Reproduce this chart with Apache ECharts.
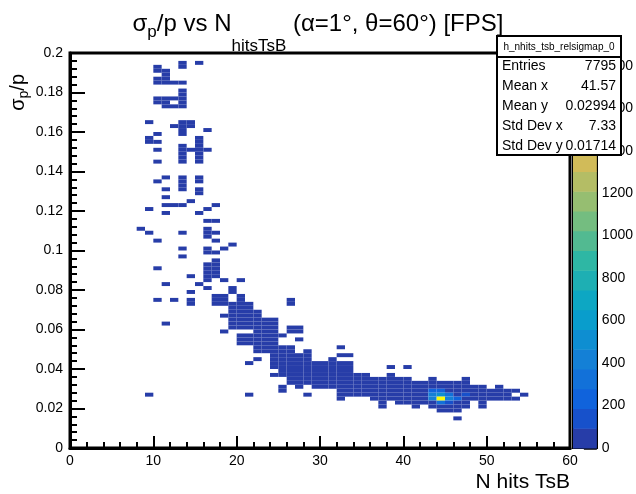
<!DOCTYPE html>
<html><head><meta charset="utf-8">
<script src="https://cdn.jsdelivr.net/npm/echarts@6/dist/echarts.min.js"></script>
<style>html,body{margin:0;padding:0;background:#fff}#c{width:636px;height:494px}</style>
</head><body><div id="c"></div>
<script>
// ---------------- data ----------------
const X_BIN = 1;        // x bin width (N hits)
const Y_BIN = 0.002;    // y bin width (sigma_p/p)
const columnX = [8,9,10,11,12,13,14,15,16,17,18,19,20,21,22,23,24,25,26,27,28,29,30,31,32,33,34,35,36,37,38,39,40,41,42,43,44,45,46,47,48,49,50,51,52,53,54];
// y bin indices (y = index * Y_BIN) filled in each x column
const columnYBins = [
  [55],
  [82,78,77,60,54,13],
  [96,95,93,92,88,87,79,77,75,72,67,52,45,37],
  [95,94,93,92,88,87,86,68,65,63,61,59,41,31],
  [92,88,86,81,61,37],
  [97,96,92,90,89,88,87,86,82,81,80,79,76,75,74,73,72,68,67,66,65,61,54,50,48],
  [82,81,75,62,43,39,37,36],
  [97,78,77,76,75,74,73,72,68,67,65,64,59,41],
  [80,75,60,57,55,54,53,50,49,46,45,44,43,42,40],
  [61,57,54,52,49,47,46,45,44,43,38,37,36],
  [50,42,38,37,36,33,29],
  [51,40,39,36,35,34,33,32,31,30],
  [42,38,37,36,35,34,33,32,31,30,28,27,26],
  [36,35,34,33,32,31,30,28,27,26,21,13],
  [34,33,32,31,30,29,28,27,26,25,24,22],
  [32,31,30,29,28,27,26,25,24],
  [32,31,30,29,28,27,26,25,24,23,22,21,20,18],
  [28,25,24,23,22,21,20,19,18,15,14],
  [37,36,30,29,25,24,23,22,21,20,19,18,17,16],
  [30,29,27,23,22,21,20,19,18,17,16,15],
  [24,23,22,21,20,19,18,17,16,13],
  [21,20,19,18,17,16,15],
  [21,20,19,18,17,16,15],
  [22,21,20,19,18,17,16,15],
  [25,23,21,20,19,18,17,16,15,14,13,12],
  [23,21,20,19,18,17,16,15,14,13],
  [18,17,16,15,14,13],
  [18,17,16,15,14,13],
  [17,16,15,14,13,12],
  [17,16,15,14,13,12,11,10],
  [20,18,17,16,15,14,13,12],
  [17,16,15,14,13,12,11],
  [20,17,16,15,14,13,12,11],
  [16,15,14,13,12,11,10],
  [16,15,14,13,12,11],
  [17,16,15,14,13,12,11,10],
  [16,15,14,13,12,11,10,9],
  [16,15,14,13,12,11,10,9],
  [16,15,14,13,12,11,10,9,7],
  [17,16,15,14,13,12,11,10],
  [15,14,13,12],
  [15,14,13,12,11,10],
  [14,13,12],
  [15,14,13,12],
  [14,13,12],
  [14,12],
  [13]
];
// entries in each of those bins
const columnCounts = [
  [1],
  [1,1,1,1,1,1],
  [1,2,1,2,1,2,1,1,1,1,1,1,1,1],
  [2,1,1,2,2,1,1,1,1,1,2,1,1,1],
  [1,1,1,1,1,1],
  [1,2,1,1,2,2,1,2,1,2,1,2,1,2,2,1,1,1,1,1,2,1,1,1,1],
  [1,2,1,1,1,1,1,1],
  [1,1,2,1,2,1,1,2,1,1,1,2,1,1],
  [1,1,1,1,2,1,2,1,1,2,3,2,2,1,1],
  [1,1,1,1,1,1,2,3,2,2,2,3,2],
  [1,1,3,2,3,1,1],
  [1,2,2,4,5,4,3,2,2,1],
  [1,1,3,5,6,7,6,5,4,3,2,2,1],
  [3,5,7,8,8,6,5,3,3,2,1,1],
  [3,6,8,9,8,7,5,4,3,2,2,1],
  [3,7,9,10,9,7,5,4,2],
  [1,3,6,9,11,10,8,6,4,3,2,2,1,1],
  [2,8,10,11,9,7,5,3,2,1,1],
  [1,1,1,1,8,11,13,12,10,8,6,4,2,1],
  [1,1,1,9,12,14,13,10,7,4,2,1],
  [2,6,11,15,16,14,10,6,2,1],
  [8,14,18,17,12,6,2],
  [7,15,20,19,13,7,2],
  [2,9,17,22,20,14,7,2],
  [1,2,4,10,18,24,22,15,9,4,2,1],
  [1,3,8,16,24,26,19,11,5,2],
  [6,18,28,26,14,4],
  [5,17,30,29,16,5],
  [8,24,34,30,15,3],
  [6,20,36,40,26,10,3,1],
  [1,3,16,38,45,32,12,3],
  [9,30,50,44,24,8,2],
  [1,8,34,58,55,30,9,2],
  [12,48,70,62,30,8,1],
  [18,62,85,80,35,6],
  [4,30,80,240,460,380,20,2],
  [32,80,250,520,1860,300,8,1],
  [26,70,88,330,420,150,20,2],
  [20,60,85,90,200,80,15,4,1],
  [3,22,60,80,160,70,12,2],
  [20,55,70,40],
  [15,45,60,50,20,3],
  [30,48,35],
  [6,28,40,20],
  [15,30,12],
  [6,4],
  [3]
];
const statsLabels = ['Entries','Mean x','Mean y','Std Dev x','Std Dev y'];
const statsValues = ['7795','41.57','0.02994','7.33','0.01714'];
const histName = 'h_nhits_tsb_relsigmap_0';
const zMax = 1860;     // top of colour scale
const zTickStep = 200;

// ---------------- colour palette (ROOT kBird, 20 contours) ----------------
const birdStops = [0,0.125,0.25,0.375,0.5,0.625,0.75,0.875,1];
const birdR = [0.2082,0.0592,0.0780,0.0232,0.1802,0.5301,0.8186,0.9956,0.9764];
const birdG = [0.1664,0.3599,0.5041,0.6419,0.7178,0.7492,0.7328,0.7862,0.9832];
const birdB = [0.5293,0.8684,0.8385,0.7914,0.6425,0.4662,0.3499,0.1968,0.0539];
const NCONT = 20, NCOL = 255;
function paletteColor(f){
  let i = 0; while (i < birdStops.length-2 && f > birdStops[i+1]) i++;
  const t = (f - birdStops[i])/(birdStops[i+1]-birdStops[i]);
  const c = a => Math.round(255*(a[i]+(a[i+1]-a[i])*t));
  return 'rgb(' + c(birdR) + ',' + c(birdG) + ',' + c(birdB) + ')';
}
function levelColor(k){ const idx = Math.floor((k+0.99)*NCOL/NCONT); return paletteColor(idx/(NCOL-1)); }
function countColor(c){ let k = Math.floor(c/(zMax/NCONT)); if (k > NCONT-1) k = NCONT-1; return levelColor(k); }

const cells = [];
columnX.forEach((x, i) => columnYBins[i].forEach((j, k) => cells.push([x, +(j*Y_BIN).toFixed(4), columnCounts[i][k]])));
const levels = [];
for (let k = 0; k < NCONT; k++) levels.push([k*zMax/NCONT, (k+1)*zMax/NCONT, k]);

// ---------------- text helpers ----------------
const FONT = '"Liberation Sans", Arial, Helvetica, sans-serif';
const mctx = document.createElement('canvas').getContext('2d');
function tw(t, s){ mctx.font = s + 'px ' + FONT; return mctx.measureText(t).width; }
function runPieces(pieces, x0, y0){ // pieces: [text,size,dy]; y0 = top of main text box
  const out = []; let x = x0;
  pieces.forEach(p => { out.push({type:'text', z:100, x:x, y:y0+p[2], style:{text:p[0], font:p[1]+'px '+FONT, fill:'#000', textAlign:'left', textVerticalAlign:'top', verticalAlign:'top'}}); x += tw(p[0], p[1]); });
  return {els: out, width: x - x0};
}
const titlePieces = [['σ',24,0],['p',17,12],['/p vs N',24,0],['hitsTsB',17,26],[' (α=1°, θ=60°) [FPS]',24,0]];
let tWidth = 0; titlePieces.forEach(p => tWidth += tw(p[0], p[1]));
const titleRun = runPieces(titlePieces, 318 - tWidth/2, 12);
const yTitlePieces = [['σ',20,0],['p',14,9],['/p',20,0]];
let yw = 0; yTitlePieces.forEach(p => yw += tw(p[0], p[1]));
const yTitleRun = runPieces(yTitlePieces, -yw, 0);

const graphics = [];
titleRun.els.forEach(e => graphics.push(e));
graphics.push({type:'group', x:8, y:74, rotation:Math.PI/2, children: yTitleRun.els});
graphics.push({type:'text', z:100, x:570, y:472, style:{text:'N hits TsB', font:'21px '+FONT, fill:'#000', textAlign:'right', textVerticalAlign:'top', verticalAlign:'top'}});
// stats box
const sb = {x:497, y:36, w:124, h:119};
graphics.push({type:'rect', z:100, shape:{x:sb.x, y:sb.y, width:sb.w, height:sb.h}, style:{fill:'#fff', stroke:'#000', lineWidth:2}});
graphics.push({type:'line', z:101, shape:{x1:sb.x, y1:sb.y+21, x2:sb.x+sb.w, y2:sb.y+21}, style:{stroke:'#000', lineWidth:2}});
graphics.push({type:'text', z:101, x:sb.x+sb.w/2, y:sb.y+11, style:{text:histName, font:'10px '+FONT, fill:'#000', textAlign:'center', textVerticalAlign:'middle', verticalAlign:'middle'}});
statsLabels.forEach((l, i) => {
  const yy = sb.y + 30 + i*20;
  graphics.push({type:'text', z:101, x:sb.x+5, y:yy, style:{text:l, font:'14px '+FONT, fill:'#000', textAlign:'left', textVerticalAlign:'middle', verticalAlign:'middle'}});
  graphics.push({type:'text', z:101, x:sb.x+sb.w-5, y:yy, style:{text:statsValues[i], font:'14px '+FONT, fill:'#000', textAlign:'right', textVerticalAlign:'middle', verticalAlign:'middle'}});
});

const tickStyle = {color:'#000', width:2};
const labelStyle = {color:'#000', fontSize:14, fontFamily:FONT};
const chart = echarts.init(document.getElementById('c'), null, {renderer:'canvas'});
chart.setOption({
  animation:false,
  backgroundColor:'#fff',
  grid:[
    {left:70, top:53, width:500, height:395, show:true, borderColor:'#000', borderWidth:3, backgroundColor:'rgba(0,0,0,0)'},
    {left:573, top:53, width:28, height:395, show:true, borderColor:'#000', borderWidth:2, backgroundColor:'rgba(0,0,0,0)'}
  ],
  xAxis:[
    {gridIndex:0, type:'value', min:0, max:60, interval:10,
     axisLine:{show:true, onZero:false, lineStyle:{color:'#000', width:3}},
     axisTick:{show:true, inside:true, length:12, lineStyle:tickStyle},
     minorTick:{show:true, splitNumber:5, length:6, lineStyle:tickStyle},
     axisLabel:Object.assign({margin:6}, labelStyle), splitLine:{show:false}},
    {gridIndex:1, type:'value', min:0, max:1, show:false}
  ],
  yAxis:[
    {gridIndex:0, type:'value', min:0, max:0.2, interval:0.02,
     axisLine:{show:true, onZero:false, lineStyle:{color:'#000', width:3}},
     axisTick:{show:true, inside:true, length:15, lineStyle:tickStyle},
     minorTick:{show:true, splitNumber:5, length:7, lineStyle:tickStyle},
     axisLabel:Object.assign({margin:7, formatter:v => v === 0 ? '0' : String(+v.toFixed(3))}, labelStyle), splitLine:{show:false}},
    {gridIndex:1, type:'value', position:'right', min:0, max:zMax, interval:zTickStep,
     axisLine:{show:true, onZero:false, lineStyle:{color:'#000', width:2}},
     axisTick:{show:true, inside:true, length:13, lineStyle:{color:'#000', width:2.5}},
     axisLabel:Object.assign({margin:5, showMaxLabel:false, formatter:v => String(Math.round(v))}, labelStyle), splitLine:{show:false}}
  ],
  series:[
    {type:'custom', xAxisIndex:0, yAxisIndex:0, data:cells, clip:true, z:2,
     renderItem:(params, api) => {
       const x = api.value(0), y = api.value(1), c = api.value(2);
       const p0 = api.coord([x, y + Y_BIN]);
       const p1 = api.coord([x + X_BIN, y]);
       return {type:'rect', shape:{x:p0[0], y:p0[1], width:p1[0]-p0[0], height:p1[1]-p0[1]}, style:{fill:countColor(c)}};
     }},
    {type:'custom', xAxisIndex:1, yAxisIndex:1, data:levels, z:2,
     renderItem:(params, api) => {
       const p0 = api.coord([0, api.value(1)]);
       const p1 = api.coord([1, api.value(0)]);
       return {type:'rect', shape:{x:p0[0], y:p0[1], width:p1[0]-p0[0], height:p1[1]-p0[1]+0.5}, style:{fill:levelColor(api.value(2))}};
     }}
  ],
  graphic:{elements:graphics}
});
</script></body></html>
